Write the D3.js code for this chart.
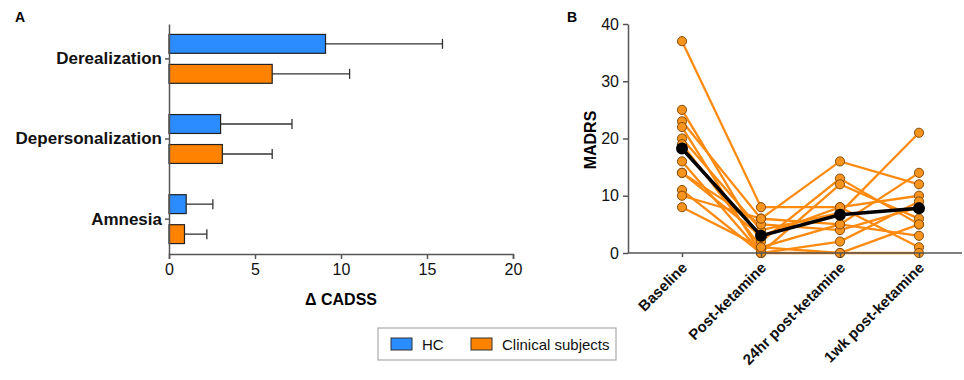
<!DOCTYPE html>
<html>
<head>
<meta charset="utf-8">
<script src="https://cdn.jsdelivr.net/npm/d3@7"></script>
<style>
  body { margin: 0; background: #fff; }
  svg { display: block; font-family: "Liberation Sans", Arial, sans-serif; }
</style>
</head>
<body>
<div id="chart"></div>
<script>
// panel A data
const symptoms = ['Derealization', 'Depersonalization', 'Amnesia'];
const groups = ['HC', 'Clinical subjects'];
const hcMean = [9.1, 3.0, 1.0];
const hcErr = [15.9, 7.15, 2.55];
const clinMean = [6.0, 3.1, 0.9];
const clinErr = [10.5, 6.0, 2.2];
const cadssTicks = [0, 5, 10, 15, 20];

// panel B data, one row per subject
const timepoints = ['Baseline', 'Post-ketamine', '24hr post-ketamine', '1wk post-ketamine'];
const subjects = [
  [37, 8, 8, 10],
  [25, 2, 13, 5],
  [23, 6, 16, 12],
  [22, 0, 12, 6],
  [20, 4, 7, 21],
  [19, 1, 5, 14],
  [16, 0, 2, 9],
  [14, 3, 8, 1],
  [14, 5, 4, 8],
  [11, 0, 0, 0],
  [10, 6, 5, 3],
  [8, 1, 0, 5]
];
const madrsTicks = [0, 10, 20, 30, 40];

const W = 964, H = 380;
const blue = '#2b8cff', orange = '#ff8200', axisCol = '#555';

const svg = d3.select('#chart').append('svg')
  .attr('width', W)
  .attr('height', H);

// ---------- panel A ----------
const x = d3.scaleLinear().domain([0, 20]).range([169, 513]);
const y = d3.scaleBand().domain(symptoms).range([24, 254]).paddingInner(0.39).paddingOuter(0.13);
const sub = d3.scaleBand().domain(groups).range([0, y.bandwidth()]).paddingInner(0.37);

const barData = [];
symptoms.forEach((s, i) => {
  barData.push({ s: s, g: groups[0], v: hcMean[i], e: hcErr[i], c: blue });
  barData.push({ s: s, g: groups[1], v: clinMean[i], e: clinErr[i], c: orange });
});

const gA = svg.append('g');

// error bars first so bars sit on top
gA.selectAll('line.err')
  .data(barData)
  .enter()
  .append('line')
  .attr('x1', d => x(d.v))
  .attr('x2', d => x(d.e))
  .attr('y1', d => y(d.s) + sub(d.g) + sub.bandwidth() / 2)
  .attr('y2', d => y(d.s) + sub(d.g) + sub.bandwidth() / 2)
  .attr('stroke', '#333')
  .attr('stroke-width', 1.3);

gA.selectAll('line.cap')
  .data(barData)
  .enter()
  .append('line')
  .attr('x1', d => x(d.e))
  .attr('x2', d => x(d.e))
  .attr('y1', d => y(d.s) + sub(d.g) + sub.bandwidth() / 2 - 5)
  .attr('y2', d => y(d.s) + sub(d.g) + sub.bandwidth() / 2 + 5)
  .attr('stroke', '#333')
  .attr('stroke-width', 1.3);

gA.selectAll('rect')
  .data(barData)
  .enter()
  .append('rect')
  .attr('x', x(0))
  .attr('y', d => y(d.s) + sub(d.g))
  .attr('width', d => x(d.v) - x(0))
  .attr('height', sub.bandwidth())
  .attr('fill', d => d.c)
  .attr('stroke', '#222')
  .attr('stroke-width', 1.2);

const xAxis = gA.append('g')
  .attr('transform', 'translate(0,254)')
  .call(d3.axisBottom(x).tickValues(cadssTicks).tickSize(5).tickPadding(5));
xAxis.selectAll('text').attr('font-size', 16).attr('fill', '#111');

const yAxis = gA.append('g')
  .attr('transform', 'translate(169,0)')
  .call(d3.axisLeft(y).tickSize(4).tickPadding(3).tickSizeOuter(0));
yAxis.selectAll('text').attr('font-size', 17).attr('font-weight', 'bold').attr('fill', '#111');

gA.selectAll('.domain, .tick line').attr('stroke', axisCol).attr('stroke-width', 1.5);

gA.append('text')
  .attr('x', 341)
  .attr('y', 305)
  .attr('text-anchor', 'middle')
  .attr('font-size', 16)
  .attr('font-weight', 'bold')
  .text('\u0394 CADSS');

svg.append('text').attr('x', 15).attr('y', 22).attr('font-size', 14).attr('font-weight', 'bold').text('A');

// ---------- panel B ----------
const px = d3.scalePoint().domain(timepoints).range([682, 919]);
const py = d3.scaleLinear().domain([0, 40]).range([253, 24]);
const means = timepoints.map((t, i) => d3.mean(subjects, s => s[i]));

const gB = svg.append('g');
const line = d3.line().x((d, i) => px(timepoints[i])).y(d => py(d));

gB.selectAll('path.subj')
  .data(subjects)
  .enter()
  .append('path')
  .attr('d', line)
  .attr('fill', 'none')
  .attr('stroke', '#ff8a10')
  .attr('stroke-width', 2.3);

const pts = [];
subjects.forEach(s => s.forEach((v, i) => pts.push({ t: timepoints[i], v: v })));

gB.selectAll('circle.pt')
  .data(pts)
  .enter()
  .append('circle')
  .attr('cx', d => px(d.t))
  .attr('cy', d => py(d.v))
  .attr('r', 4.6)
  .attr('fill', '#f7941d')
  .attr('stroke', '#7a4200')
  .attr('stroke-width', 0.9);

gB.append('path')
  .attr('d', line(means))
  .attr('fill', 'none')
  .attr('stroke', '#000')
  .attr('stroke-width', 3.5);

gB.selectAll('circle.mean')
  .data(means)
  .enter()
  .append('circle')
  .attr('cx', (d, i) => px(timepoints[i]))
  .attr('cy', d => py(d))
  .attr('r', 6)
  .attr('fill', '#000');

const yAxB = gB.append('g')
  .attr('transform', 'translate(628,0)')
  .call(d3.axisLeft(py).tickValues(madrsTicks).tickSize(5).tickPadding(4).tickSizeOuter(0));
yAxB.selectAll('text').attr('font-size', 16).attr('fill', '#111');

const xAxB = gB.append('g')
  .attr('transform', 'translate(0,253)')
  .call(d3.axisBottom(px).tickSize(4).tickSizeOuter(0));
xAxB.select('.domain').remove();
xAxB.append('line').attr('x1', 628).attr('x2', 962).attr('stroke', axisCol).attr('stroke-width', 1.5);
xAxB.selectAll('text')
  .attr('font-size', 15)
  .attr('font-weight', 'bold')
  .attr('fill', '#111')
  .attr('text-anchor', 'end')
  .attr('x', -7)
  .attr('y', 15)
  .attr('dy', 0)
  .attr('transform', 'rotate(-45)');

gB.selectAll('.domain, .tick line').attr('stroke', axisCol).attr('stroke-width', 1.5);

gB.append('text')
  .attr('transform', 'translate(596,140) rotate(-90)')
  .attr('text-anchor', 'middle')
  .attr('font-size', 16)
  .attr('font-weight', 'bold')
  .text('MADRS');

svg.append('text').attr('x', 567).attr('y', 22).attr('font-size', 14).attr('font-weight', 'bold').text('B');

// ---------- legend ----------
const leg = svg.append('g');
leg.append('rect')
  .attr('x', 378).attr('y', 328).attr('width', 238).attr('height', 32)
  .attr('fill', '#fff').attr('stroke', '#999').attr('stroke-width', 1);

const legItems = [
  { label: groups[0], c: blue, x: 391 },
  { label: groups[1], c: orange, x: 471 }
];
leg.selectAll('rect.sw')
  .data(legItems)
  .enter()
  .append('rect')
  .attr('x', d => d.x)
  .attr('y', 338)
  .attr('width', 21)
  .attr('height', 12)
  .attr('fill', d => d.c)
  .attr('stroke', '#333')
  .attr('stroke-width', 1);
leg.selectAll('text')
  .data(legItems)
  .enter()
  .append('text')
  .attr('x', d => d.x + 31)
  .attr('y', 350)
  .attr('font-size', 15)
  .attr('fill', '#111')
  .text(d => d.label);
</script>
</body>
</html>
